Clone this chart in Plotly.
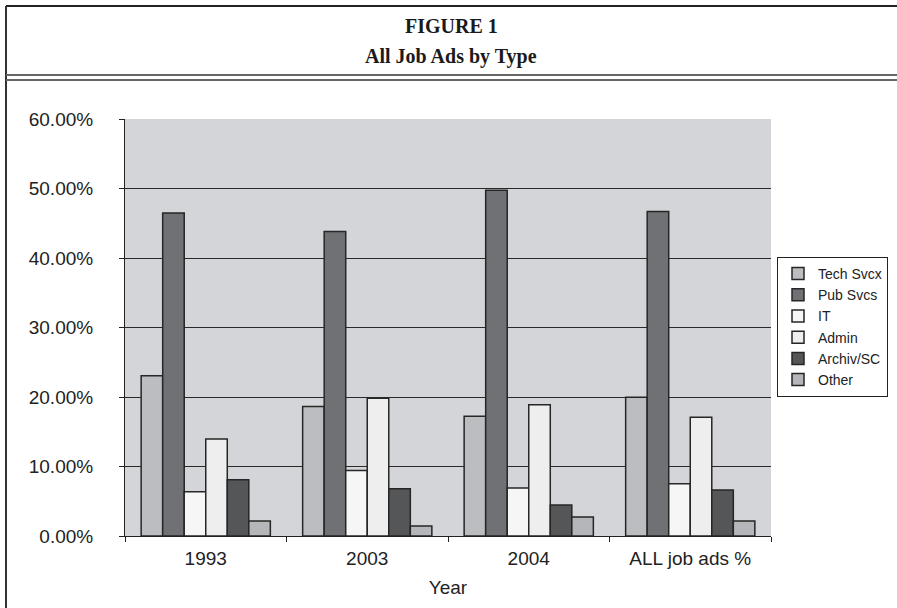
import plotly.graph_objects as go

categories = ["1993", "2003", "2004", "ALL job ads %"]
tech_svcx = [0.2304, 0.1863, 0.1724, 0.1997]
pub_svcs = [0.4646, 0.4382, 0.4976, 0.4670]
it_vals = [0.0637, 0.0943, 0.0690, 0.0752]
admin_vals = [0.1394, 0.1983, 0.1887, 0.1710]
archiv_sc = [0.0809, 0.0680, 0.0445, 0.0661]
other_vals = [0.0216, 0.0144, 0.0273, 0.0216]

series_names = ["Tech Svcx", "Pub Svcs", "IT", "Admin", "Archiv/SC", "Other"]
series_values = [tech_svcx, pub_svcs, it_vals, admin_vals, archiv_sc, other_vals]
series_colors = ["#bcbdc1", "#707175", "#f6f6f6", "#eeeeee", "#555658", "#b5b6ba"]

y_ticks = [0, 0.1, 0.2, 0.3, 0.4, 0.5, 0.6]
y_tick_text = ["0.00%", "10.00%", "20.00%", "30.00%", "40.00%", "50.00%", "60.00%"]

fig = go.Figure()
for name, vals, col in zip(series_names, series_values, series_colors):
    fig.add_trace(go.Bar(
        name=name, x=categories, y=vals,
        marker=dict(color=col, line=dict(color="#262626", width=1.5)),
    ))

W, H = 897, 608
L, R, T, B = 125, 771, 119, 536

def px(xp):
    return (xp - L) / (R - L)

def py(yp):
    return (B - yp) / (B - T)

shapes = [
    dict(type="line", xref="paper", yref="paper", x0=px(6), x1=px(897), y0=py(6), y1=py(6),
         line=dict(color="#222222", width=2)),
    dict(type="line", xref="paper", yref="paper", x0=px(6), x1=px(6), y0=py(6), y1=py(608),
         line=dict(color="#333333", width=2)),
    dict(type="line", xref="paper", yref="paper", x0=px(6), x1=px(897), y0=py(75), y1=py(75),
         line=dict(color="#666666", width=2)),
    dict(type="line", xref="paper", yref="paper", x0=px(6), x1=px(897), y0=py(80), y1=py(80),
         line=dict(color="#666666", width=2)),
]

annotations = [
    dict(text="<b>FIGURE 1</b>", xref="paper", yref="paper", x=px(451), y=py(26),
         showarrow=False, font=dict(family="Liberation Serif", size=20, color="#1a1a1a"),
         xanchor="center", yanchor="middle"),
    dict(text="<b>All Job Ads by Type</b>", xref="paper", yref="paper", x=px(451), y=py(56),
         showarrow=False, font=dict(family="Liberation Serif", size=20, color="#1a1a1a"),
         xanchor="center", yanchor="middle"),
]

fig.update_layout(
    width=W, height=H,
    margin=dict(l=L, r=W - R, t=T, b=H - B, pad=0, autoexpand=False),
    paper_bgcolor="white",
    plot_bgcolor="#d4d5d8",
    barmode="group",
    bargap=0.2,
    bargroupgap=0,
    font=dict(family="Liberation Sans", color="#222222"),
    shapes=shapes,
    annotations=annotations,
    legend=dict(
        x=px(777), xanchor="left", y=py(327), yanchor="middle",
        bordercolor="#222222", borderwidth=1, bgcolor="white",
        font=dict(family="Liberation Sans", size=14, color="#222222"),
        itemwidth=30, tracegroupgap=0,
    ),
    xaxis=dict(
        type="category",
        showline=True, linecolor="#222222", linewidth=1,
        ticks="outside", ticklen=5, tickcolor="#222222", tickson="boundaries",
        tickfont=dict(size=19, color="#222222"),
        ticklabelstandoff=5,
        title=dict(text="Year", font=dict(size=19, color="#222222"), standoff=12),
        showgrid=False,
    ),
    yaxis=dict(
        range=[0, 0.6],
        tickvals=y_ticks, ticktext=y_tick_text,
        showline=True, linecolor="#222222", linewidth=1,
        ticks="outside", ticklen=5, tickcolor="#222222",
        tickfont=dict(size=19, color="#222222"),
        ticklabelstandoff=22,
        showgrid=True, gridcolor="#2a2a2a", gridwidth=1,
        zeroline=False,
    ),
)

fig.write_html(
    "out.html",
    config={"displayModeBar": False},
    post_script="document.body.style.margin='0';document.body.style.overflow='hidden';",
)
